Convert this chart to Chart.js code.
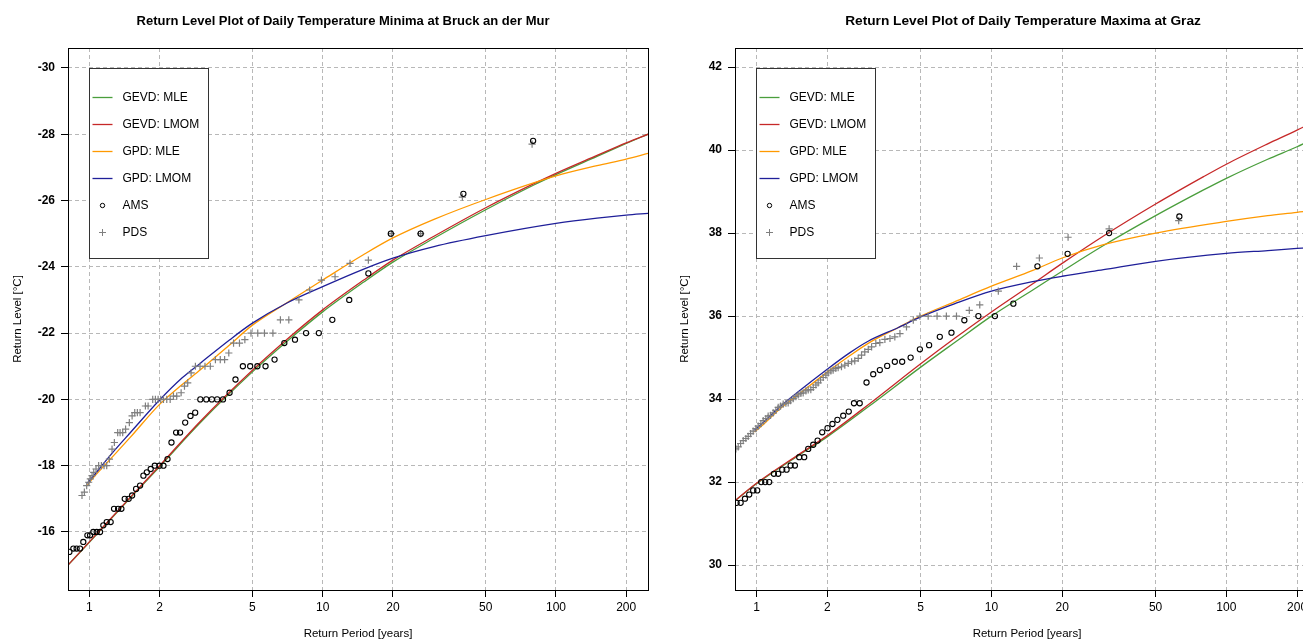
<!DOCTYPE html>
<html>
<head>
<meta charset="utf-8">
<title>Return Level Plots</title>
<script src="https://cdn.jsdelivr.net/npm/chart.js@4.4.1/dist/chart.umd.min.js"></script>
<style>
    html, body { margin: 0; padding: 0; overflow: hidden; background: #fff; }
    body { width: 1303px; height: 642px; position: relative; }
    canvas { position: absolute; top: 0; }
    #chart-min { left: 0; }
    #chart-max { left: 667px; }
</style>
</head>
<body>
<canvas id="chart-min" width="660" height="642"></canvas>
<canvas id="chart-max" width="680" height="642"></canvas>
<script>
// return periods on the x axis (log scale)
const periodTicks = [1, 2, 5, 10, 20, 50, 100, 200];
const minLevelTicks = [-30, -28, -26, -24, -22, -20, -18, -16];
const maxLevelTicks = [30, 32, 34, 36, 38, 40, 42];

const gevPeriods = [0.81, 1, 1.5, 2, 3, 5, 7, 10, 15, 20, 30, 50, 80, 100, 150, 200, 248];
const gpdPeriods = [0.98, 1.05, 1.25, 1.5, 2, 2.5, 3, 4, 5, 7, 10, 15, 20, 30, 50, 100, 150, 200, 248];

// Bruck an der Mur - minima
const minGevMle  = [-15.0, -15.69, -17.03, -17.97, -19.31, -20.83, -21.74, -22.64, -23.54, -24.14, -24.86, -25.72, -26.46, -26.78, -27.33, -27.72, -28.0];
const minGevLmom = [-15.0, -15.7, -17.05, -18.0, -19.35, -20.88, -21.8, -22.7, -23.6, -24.2, -24.92, -25.78, -26.5, -26.82, -27.36, -27.74, -28.0];
const minGpdMle  = [-17.42, -17.67, -18.25, -18.86, -19.85, -20.45, -20.9, -21.65, -22.24, -22.91, -23.6, -24.37, -24.87, -25.43, -26.03, -26.74, -27.05, -27.25, -27.42];
const minGpdLmom = [-17.47, -17.72, -18.37, -19.0, -19.98, -20.65, -21.1, -21.8, -22.3, -22.9, -23.4, -23.93, -24.26, -24.61, -24.94, -25.31, -25.47, -25.56, -25.61];

const minAmsPeriod = [0.821, 0.854, 0.882, 0.912, 0.942, 0.981, 1.007, 1.040, 1.075, 1.111, 1.148, 1.187, 1.234, 1.276, 1.328, 1.372, 1.418, 1.474, 1.525, 1.586,
    1.650, 1.705, 1.763, 1.832, 1.907, 1.997, 2.078, 2.163, 2.249, 2.355, 2.448, 2.575, 2.713, 2.842, 2.99, 3.17, 3.35, 3.53, 3.74, 3.99,
    4.23, 4.55, 4.89, 5.25, 5.69, 6.22, 6.85, 7.61, 8.49, 9.63, 11.0, 13.0, 15.7, 19.6, 26.3, 40.1, 79.8];
const minAmsLevel = [-15.4, -15.5, -15.5, -15.5, -15.7, -15.9, -15.9, -16.0, -16.0, -16.0, -16.2, -16.3, -16.3, -16.7, -16.7, -16.7, -17.0, -17.0, -17.1, -17.3,
    -17.4, -17.7, -17.8, -17.9, -18.0, -18.0, -18.0, -18.2, -18.7, -19.0, -19.0, -19.3, -19.5, -19.6, -20.0, -20.0, -20.0, -20.0, -20.0, -20.2,
    -20.6, -21.0, -21.0, -21.0, -21.0, -21.2, -21.7, -21.8, -22.0, -22.0, -22.4, -23.0, -23.8, -25.0, -25.0, -26.2, -27.8];

const minPdsPeriod = [0.930, 0.952, 0.974, 0.993, 1.010, 1.027, 1.044, 1.068, 1.096, 1.126, 1.156, 1.187, 1.219, 1.251, 1.280, 1.323, 1.354, 1.390, 1.430, 1.484,
    1.525, 1.565, 1.606, 1.650, 1.739, 1.786, 1.869, 1.919, 1.971, 2.023, 2.078, 2.147, 2.220, 2.293, 2.369, 2.474, 2.557, 2.640, 2.730, 2.848,
    2.980, 3.130, 3.300, 3.470, 3.640, 3.800, 3.960, 4.150, 4.400, 4.640, 4.930, 5.270, 5.630, 6.120, 6.590, 7.160, 7.910, 8.790, 9.880, 11.30,
    13.10, 15.70, 19.70, 26.30, 39.70, 79.0];
const minPdsLevel = [-17.1, -17.2, -17.4, -17.5, -17.6, -17.7, -17.8, -17.9, -18.0, -18.0, -18.0, -18.0, -18.2, -18.5, -18.7, -19.0, -19.0, -19.0, -19.1, -19.3,
    -19.5, -19.6, -19.6, -19.6, -19.8, -19.8, -20.0, -20.0, -20.0, -20.0, -20.0, -20.0, -20.0, -20.1, -20.1, -20.2, -20.4, -20.5, -20.8, -21.0,
    -21.0, -21.0, -21.0, -21.2, -21.2, -21.2, -21.4, -21.7, -21.7, -21.8, -22.0, -22.0, -22.0, -22.0, -22.4, -22.4, -23.0, -23.3, -23.6, -23.7,
    -24.1, -24.2, -25.0, -25.0, -26.1, -27.7];

// Graz - maxima
const maxGevMle  = [31.55, 31.96, 32.63, 33.09, 33.82, 34.77, 35.37, 36.0, 36.63, 37.08, 37.7, 38.42, 39.04, 39.32, 39.78, 40.08, 40.33];
const maxGevLmom = [31.55, 31.97, 32.65, 33.12, 33.87, 34.85, 35.47, 36.1, 36.78, 37.27, 37.93, 38.7, 39.36, 39.66, 40.15, 40.48, 40.75];
const maxGpdMle  = [33.21, 33.35, 33.75, 34.1, 34.65, 35.05, 35.35, 35.72, 36.0, 36.35, 36.72, 37.1, 37.4, 37.72, 38.0, 38.28, 38.42, 38.5, 38.57];
const maxGpdLmom = [33.25, 33.4, 33.8, 34.17, 34.72, 35.12, 35.4, 35.72, 35.98, 36.3, 36.6, 36.83, 36.96, 37.12, 37.32, 37.51, 37.58, 37.63, 37.66];

const maxAmsPeriod = [0.823, 0.856, 0.893, 0.931, 0.968, 1.007, 1.047, 1.089, 1.133, 1.186, 1.237, 1.287, 1.343, 1.397, 1.457, 1.52, 1.596, 1.66, 1.744, 1.82,
    1.904, 2.006, 2.105, 2.21, 2.34, 2.47, 2.60, 2.75, 2.94, 3.14, 3.35, 3.60, 3.88, 4.17, 4.53, 4.96, 5.43, 6.03, 6.76, 7.67,
    8.80, 10.35, 12.4, 15.7, 21.1, 31.7, 63.1];
const maxAmsLevel = [31.5, 31.5, 31.6, 31.7, 31.8, 31.8, 32.0, 32.0, 32.0, 32.2, 32.2, 32.3, 32.3, 32.4, 32.4, 32.6, 32.6, 32.8, 32.9, 33.0,
    33.2, 33.3, 33.4, 33.5, 33.6, 33.7, 33.9, 33.9, 34.4, 34.6, 34.7, 34.8, 34.9, 34.9, 35.0, 35.2, 35.3, 35.5, 35.6, 35.9,
    36.0, 36.0, 36.3, 37.2, 37.5, 38.0, 38.4];

const maxPdsPeriod = [0.817, 0.836, 0.856, 0.878, 0.901, 0.922, 0.944, 0.968, 0.994, 1.017, 1.044, 1.068, 1.096, 1.121, 1.148, 1.178, 1.209, 1.237, 1.266, 1.299,
    1.334, 1.364, 1.396, 1.433, 1.471, 1.505, 1.545, 1.580, 1.623, 1.660, 1.703, 1.744, 1.790, 1.830, 1.873, 1.923, 1.974, 2.018, 2.073, 2.119,
    2.176, 2.226, 2.300, 2.377, 2.457, 2.540, 2.620, 2.710, 2.800, 2.890, 2.990, 3.090, 3.220, 3.350, 3.520, 3.700, 3.880, 4.080, 4.350, 4.650,
    4.960, 5.380, 5.870, 6.430, 7.100, 8.050, 8.920, 10.7, 12.8, 16.0, 21.2, 31.7, 62.7];
const maxPdsLevel = [32.80, 32.85, 32.93, 33.00, 33.05, 33.10, 33.17, 33.23, 33.29, 33.35, 33.41, 33.48, 33.53, 33.59, 33.61, 33.67, 33.73, 33.80, 33.83, 33.88,
    33.90, 33.91, 33.96, 34.01, 34.06, 34.10, 34.14, 34.15, 34.20, 34.22, 34.23, 34.28, 34.34, 34.39, 34.46, 34.52, 34.58, 34.63, 34.68, 34.70,
    34.74, 34.76, 34.78, 34.82, 34.86, 34.90, 34.92, 34.98, 35.06, 35.14, 35.20, 35.26, 35.34, 35.36, 35.44, 35.46, 35.50, 35.58, 35.74, 35.90,
    36.0, 36.0, 36.0, 36.0, 36.0, 36.14, 36.27, 36.6, 37.2, 37.4, 37.9, 38.1, 38.3];

const FONT = '"Liberation Sans", Arial, Helvetica, sans-serif';
const COLORS = {
    gevMle: '#4a9e3c',
    gevLmom: '#c62828',
    gpdMle: '#ff9900',
    gpdLmom: '#1f1f99',
    ams: '#000000',
    pds: '#7f7f7f'
};

Chart.defaults.font.family = FONT;
Chart.defaults.color = '#000';

// boxed legend in the top left corner of the plot region
const boxLegend = {
    id: 'boxLegend',
    afterDatasetsDraw(chart) {
        const { ctx, chartArea: a } = chart;
        const x0 = Math.round(a.left + 21) + 0.5, y0 = Math.round(a.top + 20) + 0.5;
        ctx.save();
        ctx.fillStyle = '#fff';
        ctx.fillRect(x0, y0, 119, 190);
        ctx.strokeStyle = '#333';
        ctx.lineWidth = 1;
        ctx.strokeRect(x0, y0, 119, 190);
        ctx.font = '12px ' + FONT;
        ctx.textBaseline = 'middle';
        ctx.textAlign = 'left';
        chart.data.datasets.forEach((ds, i) => {
            const y = y0 + 29 + 27 * i;
            const cx = x0 + 13;
            ctx.strokeStyle = ds.borderColor;
            if (ds.showLine) {
                ctx.lineWidth = 1.3;
                ctx.beginPath(); ctx.moveTo(x0 + 3, y); ctx.lineTo(x0 + 23, y); ctx.stroke();
            } else if (ds.pointStyle === 'circle') {
                ctx.lineWidth = 1;
                ctx.beginPath(); ctx.arc(cx, y, 2.2, 0, Math.PI * 2); ctx.stroke();
            } else {
                ctx.lineWidth = 1;
                ctx.beginPath();
                ctx.moveTo(cx - 3.5, y); ctx.lineTo(cx + 3.5, y);
                ctx.moveTo(cx, y - 3.5); ctx.lineTo(cx, y + 3.5);
                ctx.stroke();
            }
            ctx.fillStyle = '#000';
            ctx.fillText(ds.label, x0 + 33, y);
        });
        ctx.restore();
    }
};

// box round the plot region and the main title
const frameTitle = {
    id: 'frameTitle',
    afterDraw(chart, args, opts) {
        const { ctx, chartArea: a } = chart;
        ctx.save();
        ctx.strokeStyle = '#000';
        ctx.lineWidth = 1;
        ctx.strokeRect(Math.round(a.left) + 0.5, Math.round(a.top) + 0.5, Math.round(a.right - a.left), Math.round(a.bottom - a.top));
        ctx.font = 'bold ' + opts.size + 'px ' + FONT;
        ctx.textAlign = 'center';
        ctx.textBaseline = 'middle';
        ctx.fillStyle = '#000';
        ctx.fillText(opts.text, opts.cx, 21);
        ctx.restore();
    }
};

function toPoints(xs, ys) {
    return xs.map((x, i) => ({ x, y: ys[i] }));
}

function curveSet(label, xs, ys, color, order) {
    return {
        label, data: toPoints(xs, ys), showLine: true, order,
        borderColor: color, backgroundColor: color, borderWidth: 1.3,
        pointRadius: 0, cubicInterpolationMode: 'monotone'
    };
}

function buildPanel(canvasId, p) {
    const datasets = [
        curveSet('GEVD: MLE', gevPeriods, p.gevMle, COLORS.gevMle, 5),
        curveSet('GEVD: LMOM', gevPeriods, p.gevLmom, COLORS.gevLmom, 4),
        curveSet('GPD: MLE', gpdPeriods, p.gpdMle, COLORS.gpdMle, 3),
        curveSet('GPD: LMOM', gpdPeriods, p.gpdLmom, COLORS.gpdLmom, 2),
        { label: 'AMS', data: toPoints(p.amsT, p.amsL), order: 0, pointStyle: 'circle', pointRadius: 2.6,
          borderColor: COLORS.ams, backgroundColor: 'rgba(0,0,0,0)', borderWidth: 1.1 },
        { label: 'PDS', data: toPoints(p.pdsT, p.pdsL), order: 1, pointStyle: 'cross', pointRadius: 3.6,
          borderColor: COLORS.pds, backgroundColor: COLORS.pds, borderWidth: 1.2 }
    ];

    const grid = { color: '#b8b8b8', lineWidth: 1, drawTicks: true, tickLength: 7, tickColor: '#000', tickWidth: 1, tickBorderDash: [] };

    return new Chart(document.getElementById(canvasId), {
        type: 'scatter',
        data: { datasets },
        options: {
            responsive: false, animation: false, events: [],
            layout: { padding: { left: 0, top: 48, right: p.padRight, bottom: 0 } },
            scales: {
                x: {
                    type: 'logarithmic', min: 0.81, max: 248,
                    afterBuildTicks: (axis) => { axis.ticks = periodTicks.map(v => ({ value: v })); },
                    afterFit: (axis) => { axis.height = 52; },
                    grid, border: { display: false, dash: [4, 3] },
                    ticks: { color: '#000', font: { size: 12 }, padding: 3, maxRotation: 0, autoSkip: false, callback: (v) => String(v) },
                    title: { display: true, text: 'Return Period [years]', color: '#000', font: { size: 11.5 }, padding: { top: 0, bottom: 1.4 } }
                },
                y: {
                    type: 'linear', min: p.yMin, max: p.yMax, reverse: p.reverse,
                    afterBuildTicks: (axis) => { axis.ticks = p.yTicks.map(v => ({ value: v })); },
                    afterFit: (axis) => { axis.width = 68; },
                    grid, border: { display: false, dash: [4, 3] },
                    ticks: { color: '#000', font: { size: 12, weight: 'bold' }, padding: 6, callback: (v) => String(v) },
                    title: { display: true, text: 'Return Level [°C]', color: '#000', font: { size: 11.5 }, padding: { top: 11, bottom: 0 } }
                }
            },
            plugins: {
                legend: { display: false },
                tooltip: { enabled: false },
                frameTitle: { text: p.title, cx: p.titleX, size: p.titleSize }
            }
        },
        plugins: [boxLegend, frameTitle]
    });
}

buildPanel('chart-min', {
    title: 'Return Level Plot of Daily Temperature Minima at Bruck an der Mur', titleX: 343, titleSize: 13,
    gevMle: minGevMle, gevLmom: minGevLmom, gpdMle: minGpdMle, gpdLmom: minGpdLmom,
    amsT: minAmsPeriod, amsL: minAmsLevel, pdsT: minPdsPeriod, pdsL: minPdsLevel,
    yMin: -30.6, yMax: -14.25, reverse: true, yTicks: minLevelTicks, padRight: 12
});

buildPanel('chart-max', {
    title: 'Return Level Plot of Daily Temperature Maxima at Graz', titleX: 356, titleSize: 13.7,
    gevMle: maxGevMle, gevLmom: maxGevLmom, gpdMle: maxGpdMle, gpdLmom: maxGpdLmom,
    amsT: maxAmsPeriod, amsL: maxAmsLevel, pdsT: maxPdsPeriod, pdsL: maxPdsLevel,
    yMin: 29.4, yMax: 42.46, reverse: false, yTicks: maxLevelTicks, padRight: 28
});
</script>
</body>
</html>
